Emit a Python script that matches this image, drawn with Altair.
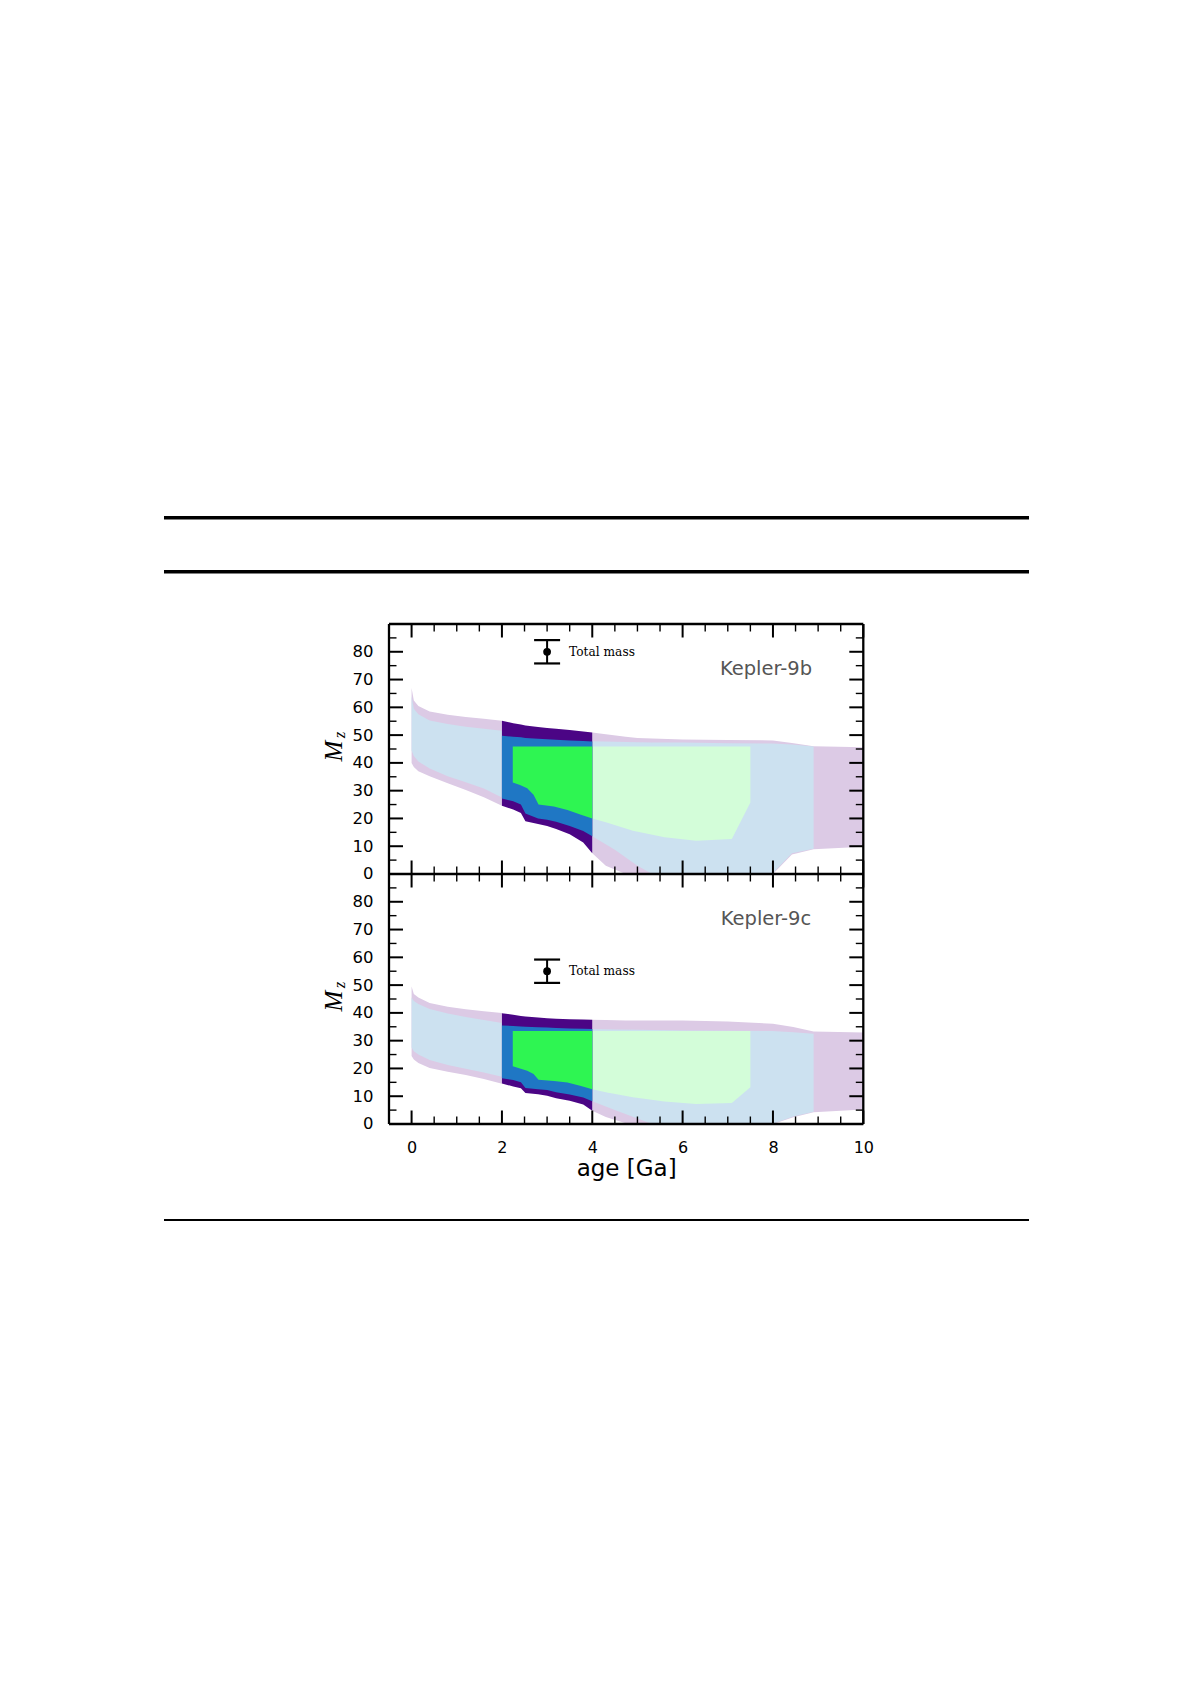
import altair as alt
import pandas as pd

# ---------------- data ----------------
PANELS = ["Kepler-9b", "Kepler-9c"]
PANEL_SPAN = 90          # each panel shows M_z from 0 to 90
PANEL_OFFSET = {"Kepler-9b": PANEL_SPAN, "Kepler-9c": 0}

# ---- Kepler-9b ----
b_early_age = [0, 0.05, 0.15, 0.4, 0.8, 1.2, 1.6, 2.0]
b_early_outer_hi = [67, 62.5, 60.5, 58.5, 57.3, 56.5, 55.9, 55.2]
b_early_outer_lo = [40, 38.5, 37, 35.2, 32.7, 30.2, 27.6, 24.6]
b_early_inner_hi = [64, 59.5, 57.5, 55.3, 54, 53, 52.3, 51.6]
b_early_inner_lo = [44.5, 42.5, 40.5, 38, 35.2, 33, 30.8, 27.5]

b_mid_age = [2.0, 2.25, 2.42, 2.52, 2.8, 3.0, 3.2, 3.5, 3.8, 4.0]
b_mid_outer_hi = [55.2, 54.3, 53.8, 53.5, 52.9, 52.6, 52.3, 51.8, 51.3, 50.9]
b_mid_outer_lo = [24.6, 23.2, 22.0, 19.0, 18.0, 17.3, 16.2, 14.3, 11.3, 7.5]
b_mid_inner_hi = [49.8, 49.4, 49.2, 49.0, 48.7, 48.5, 48.3, 48.1, 47.9, 47.7]
b_mid_inner_lo = [27.2, 26.2, 25.0, 21.8, 20.0, 19.5, 18.8, 17.3, 15.5, 13.6]
b_mid_core_age = [2.24, 2.4, 2.56, 2.7, 2.81, 3.15, 3.45, 3.75, 4.0]
b_mid_core_hi = [45.9, 45.9, 45.9, 45.9, 45.9, 45.9, 45.9, 45.9, 45.9]
b_mid_core_lo = [32.9, 32.0, 30.9, 28.5, 25.0, 24.3, 23.0, 21.3, 20.0]

b_late_outer_age = [4.0, 4.3, 4.74, 5.0, 6.0, 7.0, 8.0, 8.42, 8.9, 10]
b_late_outer_hi = [50.9, 50.3, 49.4, 49.0, 48.4, 48.2, 48.1, 47.2, 46.0, 45.6]
b_late_outer_lo = [7.5, 3.0, 0, 0, 0, 0, 0, 7.0, 8.9, 9.8]
b_late_inner_age = [4.0, 4.5, 5.0, 5.33, 6.0, 7.0, 7.98, 8.42, 8.9]
b_late_inner_hi = [47.8, 47.6, 47.4, 47.3, 47.3, 47.1, 47.0, 46.6, 45.9]
b_late_inner_lo = [13.6, 8.7, 3.0, 0, 0, 0, 0, 7.5, 9.1]
b_late_core_age = [4.0, 4.3, 4.9, 5.6, 6.3, 7.09, 7.5]
b_late_core_hi = [45.9, 45.9, 45.9, 45.9, 45.9, 45.9, 45.9]
b_late_core_lo = [20.0, 18.6, 15.6, 13.2, 12.0, 12.6, 25.7]

# ---- Kepler-9c ----
c_early_age = [0, 0.05, 0.15, 0.4, 0.8, 1.2, 1.6, 2.0]
c_early_outer_hi = [49.5, 46.8, 45.5, 43.6, 42.2, 41.3, 40.6, 40.0]
c_early_outer_lo = [24.5, 23.2, 22.0, 20.2, 18.8, 17.6, 16.2, 14.5]
c_early_inner_hi = [45.5, 44.3, 43.2, 41.4, 39.8, 38.5, 37.4, 36.4]
c_early_inner_lo = [27.5, 26.2, 25.0, 23.0, 21.2, 19.9, 18.5, 17.0]

c_mid_age = [2.0, 2.25, 2.42, 2.52, 2.8, 3.0, 3.2, 3.5, 3.8, 4.0]
c_mid_outer_hi = [39.9, 39.3, 38.9, 38.7, 38.3, 38.1, 37.9, 37.7, 37.6, 37.5]
c_mid_outer_lo = [14.6, 13.5, 12.9, 11.2, 10.7, 10.2, 9.3, 8.4, 7.0, 4.8]
c_mid_inner_hi = [35.5, 35.3, 35.1, 35.0, 34.8, 34.7, 34.6, 34.4, 34.3, 34.2]
c_mid_inner_lo = [16.5, 15.8, 15.0, 13.0, 12.5, 12.2, 11.4, 10.6, 9.5, 8.2]
c_mid_core_age = [2.24, 2.4, 2.56, 2.7, 2.81, 3.15, 3.45, 3.75, 4.0]
c_mid_core_hi = [33.5, 33.5, 33.5, 33.5, 33.5, 33.5, 33.5, 33.5, 33.5]
c_mid_core_lo = [20.8, 20.0, 19.2, 18.0, 15.9, 15.5, 14.9, 13.7, 12.5]

c_late_outer_age = [4.0, 4.3, 4.74, 5.0, 6.0, 7.0, 8.0, 8.45, 8.9, 10]
c_late_outer_hi = [37.5, 37.4, 37.3, 37.3, 37.3, 36.9, 36.1, 34.9, 33.3, 32.9]
c_late_outer_lo = [4.8, 2.5, 0.3, 0, 0, 0, 0, 2.4, 4.2, 5.2]
c_late_inner_age = [4.0, 4.5, 5.0, 5.33, 6.0, 7.0, 7.98, 8.45, 8.9]
c_late_inner_hi = [34.2, 34.0, 33.9, 33.8, 33.7, 33.6, 33.5, 33.0, 32.5]
c_late_inner_lo = [8.2, 5.0, 2.0, 0, 0, 0, 0, 2.7, 4.4]
c_late_core_age = [4.0, 4.3, 4.9, 5.6, 6.3, 7.09, 7.5]
c_late_core_hi = [33.5, 33.5, 33.5, 33.5, 33.5, 33.5, 33.5]
c_late_core_lo = [12.5, 11.4, 9.6, 8.1, 7.2, 7.6, 13.2]

# total-mass markers
mass_panel = ["Kepler-9b", "Kepler-9c"]
mass_age = [3.0, 3.0]
mass_value = [80.0, 55.0]
mass_err = [4.2, 4.2]

# axis ticks
x_tick_labels = [0, 2, 4, 6, 8, 10]
x_minor = [0.5, 1, 1.5, 2.5, 3, 3.5, 4.5, 5, 5.5, 6.5, 7, 7.5, 8.5, 9, 9.5]
y_tick_labels = [0, 10, 20, 30, 40, 50, 60, 70, 80]
y_minor = [5, 15, 25, 35, 45, 55, 65, 75, 85]

# ---------------- styling ----------------
COL = {
    "early_outer": "#dccae5", "late_outer": "#dccae5",
    "early_inner": "#cce1f0", "late_inner": "#cce1f0",
    "late_core": "#d3fdd9",
    "mid_outer": "#4b0585", "mid_inner": "#1f77c4", "mid_core": "#2ef552",
}
W, H = 474.3, 500
FONT = "DejaVu Sans"

# ---------------- build tables ----------------
rows = []
def add(panel, region, ages, lo, hi):
    off = PANEL_OFFSET[panel]
    for a, l, h in zip(ages, lo, hi):
        rows.append(dict(panel=panel, region=region, age=a, lo=l + off, hi=h + off))

add("Kepler-9b", "early_outer", b_early_age, b_early_outer_lo, b_early_outer_hi)
add("Kepler-9b", "early_inner", b_early_age, b_early_inner_lo, b_early_inner_hi)
add("Kepler-9b", "mid_outer", b_mid_age, b_mid_outer_lo, b_mid_outer_hi)
add("Kepler-9b", "mid_inner", b_mid_age, b_mid_inner_lo, b_mid_inner_hi)
add("Kepler-9b", "mid_core", b_mid_core_age, b_mid_core_lo, b_mid_core_hi)
add("Kepler-9b", "late_outer", b_late_outer_age, b_late_outer_lo, b_late_outer_hi)
add("Kepler-9b", "late_inner", b_late_inner_age, b_late_inner_lo, b_late_inner_hi)
add("Kepler-9b", "late_core", b_late_core_age, b_late_core_lo, b_late_core_hi)
add("Kepler-9c", "early_outer", c_early_age, c_early_outer_lo, c_early_outer_hi)
add("Kepler-9c", "early_inner", c_early_age, c_early_inner_lo, c_early_inner_hi)
add("Kepler-9c", "mid_outer", c_mid_age, c_mid_outer_lo, c_mid_outer_hi)
add("Kepler-9c", "mid_inner", c_mid_age, c_mid_inner_lo, c_mid_inner_hi)
add("Kepler-9c", "mid_core", c_mid_core_age, c_mid_core_lo, c_mid_core_hi)
add("Kepler-9c", "late_outer", c_late_outer_age, c_late_outer_lo, c_late_outer_hi)
add("Kepler-9c", "late_inner", c_late_inner_age, c_late_inner_lo, c_late_inner_hi)
add("Kepler-9c", "late_core", c_late_core_age, c_late_core_lo, c_late_core_hi)
bands = pd.DataFrame(rows)

mass = pd.DataFrame(dict(panel=mass_panel, age=mass_age, val=mass_value, err=mass_err))
mass["off"] = mass["panel"].map(PANEL_OFFSET)
mass["c"] = mass["val"] + mass["off"]
mass["lo"] = mass["c"] - mass["err"]
mass["hi"] = mass["c"] + mass["err"]

xt_major = pd.DataFrame(dict(age=x_tick_labels))
xt_minor = pd.DataFrame(dict(age=x_minor))
yt_major = pd.DataFrame(dict(pos=[v + PANEL_OFFSET[p] for p in PANELS for v in y_tick_labels]))
yt_minor = pd.DataFrame(dict(pos=[v + PANEL_OFFSET[p] for p in PANELS for v in y_minor]))
one = pd.DataFrame(dict(k=[0]))

# ---------------- scales / axes ----------------
xs = alt.Scale(domain=[-0.5, 10], nice=False, zero=False)
ys = alt.Scale(domain=[0, 2 * PANEL_SPAN], nice=False, zero=False)
xa = alt.Axis(values=x_tick_labels, ticks=False, tickSize=0, domain=False, grid=False,
              labelFont=FONT, labelFontSize=16, labelColor="black", labelPadding=16,
              labelFlush=False, labelOverlap=False, format="d",
              title="age [Ga]", titleFont=FONT, titleFontSize=23, titleFontWeight="normal",
              titleColor="black", titlePadding=2)
ya = alt.Axis(values=[v + PANEL_OFFSET[p] for p in PANELS for v in y_tick_labels],
              labelExpr=f"datum.value >= {PANEL_SPAN} ? datum.value - {PANEL_SPAN} : datum.value",
              ticks=False, tickSize=0, domain=False, grid=False,
              labelFont=FONT, labelFontSize=16.5, labelColor="black", labelPadding=16,
              labelFlush=False, labelOverlap=False, title=None)
X = alt.X("age:Q", scale=xs, axis=xa)

layers = []
order = ["early_outer", "late_outer", "early_inner", "late_inner", "late_core",
         "mid_outer", "mid_inner", "mid_core"]
for reg in order:
    layers.append(
        alt.Chart(bands[bands.region == reg]).mark_area(color=COL[reg], opacity=1, interpolate="linear")
        .encode(x=X, y=alt.Y("lo:Q", scale=ys, axis=ya), y2="hi:Q", detail="panel:N")
    )

# x ticks (inward, and both ways at the shared edge)
for df, L, sw in [(xt_major, 13.5, 2.0), (xt_minor, 7.5, 1.4)]:
    for y1, y2 in [(0, L), (H / 2 - L, H / 2 + L), (H - L, H)]:
        layers.append(alt.Chart(df).mark_rule(color="black", strokeWidth=sw)
                      .encode(x=X, y=alt.value(y1), y2=alt.value(y2)))
# y ticks (inward, left and right)
for df, L, sw in [(yt_major, 14, 2.0), (yt_minor, 7.5, 1.4)]:
    for x1, x2 in [(0, L), (W - L, W)]:
        layers.append(alt.Chart(df).mark_rule(color="black", strokeWidth=sw)
                      .encode(y=alt.Y("pos:Q", scale=ys, axis=ya), x=alt.value(x1), x2=alt.value(x2)))

# total mass markers
layers.append(alt.Chart(mass).mark_rule(color="black", strokeWidth=2)
              .encode(x=X, y=alt.Y("lo:Q", scale=ys, axis=ya), y2="hi:Q"))
for col in ["lo", "hi"]:
    layers.append(alt.Chart(mass).mark_rule(color="black", strokeWidth=2.2, xOffset=-13, x2Offset=13)
                  .encode(x=X, x2="age:Q", y=alt.Y(f"{col}:Q", scale=ys, axis=ya)))
layers.append(alt.Chart(mass).mark_circle(color="black", opacity=1, size=60)
              .encode(x=X, y=alt.Y("c:Q", scale=ys, axis=ya)))
layers.append(alt.Chart(mass).mark_text(text="Total mass", align="left", baseline="middle", dx=22,
                                        font="DejaVu Serif", fontSize=12.2, color="black")
              .encode(x=X, y=alt.Y("c:Q", scale=ys, axis=ya)))

# panel names
for i, p in enumerate(PANELS):
    layers.append(alt.Chart(one).mark_text(text=p, align="center", baseline="middle",
                                           font=FONT, fontSize=19.5, color="#555555")
                  .encode(x=alt.value(377), y=alt.value(45 + i * H / 2)))
    # y-axis title M_z
    layers.append(alt.Chart(one).mark_text(text="M", angle=270, align="center", baseline="middle",
                                           font="Liberation Serif", fontStyle="italic", fontSize=25,
                                           color="black")
                  .encode(x=alt.value(-54.5), y=alt.value(127 + i * H / 2)))
    layers.append(alt.Chart(one).mark_text(text="z", angle=270, align="center", baseline="middle",
                                           font="Liberation Serif", fontStyle="italic", fontSize=17,
                                           color="black")
                  .encode(x=alt.value(-48.5), y=alt.value(111 + i * H / 2)))

# frame and shared edge
for x1, x2, y1, y2 in [(0, W, 0, 0), (0, W, H, H), (0, W, H / 2, H / 2), (0, 0, 0, H), (W, W, 0, H)]:
    layers.append(alt.Chart(one).mark_rule(color="black", strokeWidth=2.3)
                  .encode(x=alt.value(x1), x2=alt.value(x2), y=alt.value(y1), y2=alt.value(y2)))

# page rules above and below the figure
for yy, sw in [(-106.2, 3.5), (-52.3, 3.5), (596, 2.2)]:
    layers.append(alt.Chart(one).mark_rule(color="black", strokeWidth=sw)
                  .encode(x=alt.value(-225), x2=alt.value(640), y=alt.value(yy)))

chart = alt.layer(*layers).properties(
    width=W, height=H,
    padding={"left": 381, "top": 616, "right": 300, "bottom": 480},
    autosize=alt.AutoSizeParams(type="none"),
).configure_view(stroke=None)

chart.save("out.html", embed_options={"renderer": "svg", "actions": False})
